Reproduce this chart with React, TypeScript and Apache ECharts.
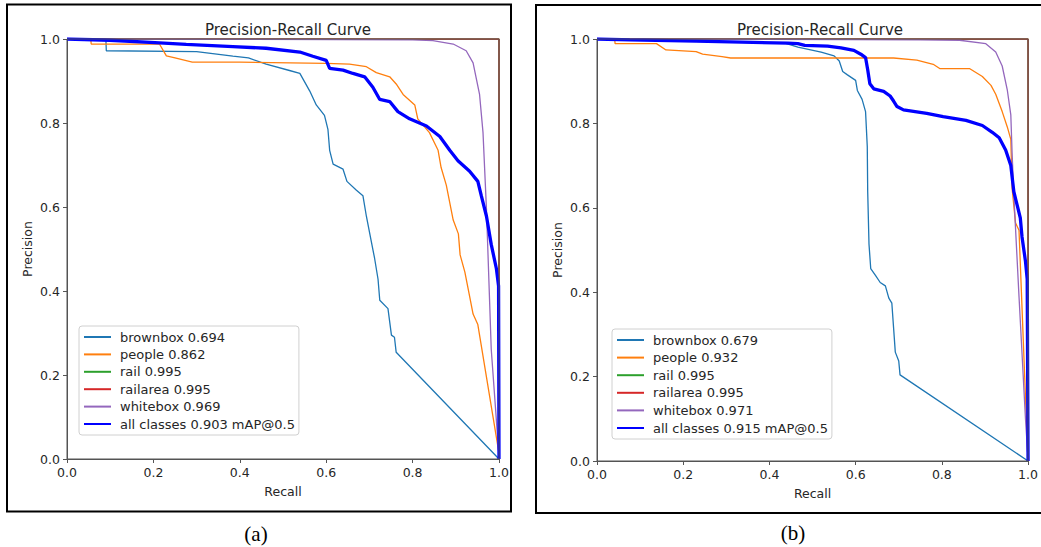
import React, { useEffect, useRef } from "react";
import * as echarts from "echarts";

const COLORS = ["#1f77b4", "#ff7f0e", "#2ca02c", "#d62728", "#9467bd", "#0000ff"];
const WIDTHS = [1.3, 1.3, 1.3, 1.3, 1.3, 3.3];

const namesA = ["brownbox 0.694", "people 0.862", "rail 0.995", "railarea 0.995", "whitebox 0.969", "all classes 0.903 mAP@0.5"];
const namesB = ["brownbox 0.679", "people 0.932", "rail 0.995", "railarea 0.995", "whitebox 0.971", "all classes 0.915 mAP@0.5"];

const brownboxA = [[0,1],[0.09,1],[0.091,0.972],[0.3,0.97],[0.384,0.959],[0.42,0.955],[0.461,0.94],[0.515,0.925],[0.539,0.918],[0.562,0.876],[0.577,0.843],[0.596,0.818],[0.604,0.785],[0.608,0.735],[0.616,0.702],[0.639,0.69],[0.648,0.661],[0.67,0.64],[0.685,0.627],[0.693,0.578],[0.704,0.52],[0.712,0.478],[0.72,0.428],[0.724,0.378],[0.743,0.358],[0.751,0.295],[0.758,0.29],[0.762,0.254],[1,0]];
const peopleA = [[0,1],[0.055,1],[0.056,0.988],[0.214,0.988],[0.23,0.96],[0.25,0.955],[0.29,0.945],[0.4,0.945],[0.6,0.942],[0.654,0.94],[0.693,0.934],[0.716,0.92],[0.747,0.91],[0.762,0.893],[0.778,0.868],[0.805,0.843],[0.812,0.81],[0.839,0.777],[0.859,0.735],[0.866,0.694],[0.878,0.652],[0.894,0.569],[0.906,0.536],[0.91,0.486],[0.921,0.445],[0.932,0.387],[0.94,0.345],[0.951,0.32],[0.999,0.02]];
const railA = [[0,1],[1,1],[1,0]];
const railareaA = [[0,1],[1,1],[1,0]];
const whiteboxA = [[0,1],[0.8,0.998],[0.847,0.996],[0.894,0.988],[0.924,0.972],[0.94,0.943],[0.955,0.868],[0.963,0.777],[0.971,0.594],[0.982,0.262],[0.999,0.02]];
const allA = [[0,1],[0.099,0.997],[0.214,0.991],[0.276,0.987],[0.384,0.982],[0.461,0.978],[0.539,0.969],[0.569,0.959],[0.6,0.949],[0.608,0.93],[0.639,0.926],[0.662,0.918],[0.689,0.91],[0.708,0.885],[0.724,0.856],[0.747,0.851],[0.766,0.827],[0.793,0.81],[0.832,0.793],[0.863,0.768],[0.886,0.735],[0.905,0.71],[0.932,0.685],[0.951,0.661],[0.959,0.627],[0.971,0.578],[0.982,0.511],[0.994,0.453],[0.999,0.412],[1,0]];

const brownboxB = [[0,1],[0.214,0.995],[0.436,0.99],[0.466,0.981],[0.52,0.969],[0.55,0.96],[0.562,0.948],[0.57,0.923],[0.581,0.915],[0.6,0.902],[0.604,0.878],[0.615,0.857],[0.623,0.828],[0.627,0.745],[0.628,0.638],[0.631,0.514],[0.635,0.456],[0.646,0.44],[0.657,0.423],[0.669,0.415],[0.677,0.386],[0.684,0.374],[0.688,0.316],[0.692,0.258],[0.7,0.237],[0.703,0.204],[1,0]];
const peopleB = [[0,1],[0.041,1],[0.042,0.989],[0.138,0.989],[0.16,0.974],[0.23,0.97],[0.245,0.964],[0.29,0.958],[0.31,0.955],[0.688,0.955],[0.742,0.95],[0.78,0.94],[0.795,0.93],[0.864,0.93],[0.894,0.911],[0.914,0.89],[0.925,0.869],[0.94,0.828],[0.952,0.791],[0.96,0.762],[0.963,0.646],[0.971,0.564],[0.979,0.547],[0.999,0.02]];
const railB = [[0,1],[1,1],[1,0]];
const railareaB = [[0,1],[1,1],[1,0]];
const whiteboxB = [[0,1],[0.75,0.998],[0.841,0.997],[0.902,0.989],[0.925,0.969],[0.94,0.936],[0.952,0.878],[0.96,0.82],[0.963,0.729],[0.967,0.63],[0.979,0.39],[0.994,0.1],[0.999,0.02]];
const allB = [[0,1],[0.076,0.998],[0.23,0.995],[0.443,0.99],[0.466,0.989],[0.482,0.985],[0.535,0.983],[0.566,0.979],[0.596,0.973],[0.612,0.964],[0.623,0.956],[0.628,0.927],[0.633,0.894],[0.642,0.882],[0.665,0.876],[0.68,0.865],[0.688,0.853],[0.696,0.84],[0.711,0.832],[0.765,0.824],[0.803,0.816],[0.856,0.807],[0.894,0.795],[0.917,0.779],[0.933,0.766],[0.948,0.737],[0.96,0.7],[0.967,0.638],[0.975,0.605],[0.982,0.576],[0.986,0.531],[0.994,0.473],[0.998,0.431],[1,0]];

const dataA = [brownboxA, peopleA, railA, railareaA, whiteboxA, allA];
const dataB = [brownboxB, peopleB, railB, railareaB, whiteboxB, allB];

const FONT = "DejaVu Sans";
const AXC = "#555";
const TXT = "#262626";

function axisX(gridIndex: number) {
  return {
    type: "value", gridIndex, min: 0, max: 1, interval: 0.2,
    name: "Recall", nameLocation: "middle", nameGap: 26,
    nameTextStyle: { fontFamily: FONT, fontSize: 12.5, color: TXT },
    axisLine: { show: true, lineStyle: { color: AXC, width: 1 } },
    axisTick: { show: true, length: 4, lineStyle: { color: AXC } },
    axisLabel: { fontFamily: FONT, fontSize: 12.5, color: TXT, margin: 7, formatter: (v: number) => v.toFixed(1) },
    splitLine: { show: false },
  };
}
function axisY(gridIndex: number) {
  return {
    type: "value", gridIndex, min: 0, max: 1, interval: 0.2,
    name: "Precision", nameLocation: "middle", nameGap: 33, nameRotate: 90,
    nameTextStyle: { fontFamily: FONT, fontSize: 12.5, color: TXT },
    axisLine: { show: true, lineStyle: { color: AXC, width: 1 } },
    axisTick: { show: true, length: 4, lineStyle: { color: AXC } },
    axisLabel: { fontFamily: FONT, fontSize: 12.5, color: TXT, margin: 7, formatter: (v: number) => v.toFixed(1) },
    splitLine: { show: false },
  };
}

function legend(names: string[], left: number, top: number, gap: number) {
  return {
    orient: "vertical", left, top, selectedMode: false,
    data: names,
    itemWidth: 27, itemHeight: 14, itemGap: gap,
    padding: [4.5, 4, 4.5, 4],
    backgroundColor: "#fff", borderColor: "#d0d0d0", borderWidth: 1, borderRadius: 3,
    itemStyle: { opacity: 0 },
    textStyle: { fontFamily: FONT, fontSize: 13, color: TXT, padding: [0, 0, 0, 4] },
  };
}

export default function App() {
  const ref = useRef<HTMLDivElement>(null);
  useEffect(() => {
    if (!ref.current) return;
    const chart = echarts.init(ref.current, null, { renderer: "svg" });
    const series: any[] = [];
    [dataA, dataB].forEach((set, gi) => {
      const names = gi === 0 ? namesA : namesB;
      set.forEach((d, i) => {
        series.push({
          type: "line", name: names[i], data: d, xAxisIndex: gi, yAxisIndex: gi,
          symbol: "none", showSymbol: false, silent: true, clip: true,
          lineStyle: { color: COLORS[i], width: WIDTHS[i] },
          itemStyle: { color: COLORS[i] },
          z: 2 + i,
        });
      });
    });
    chart.setOption({
      animation: false,
      backgroundColor: "#fff",
      title: [
        { text: "Precision-Recall Curve", left: 283, top: 17, textAlign: "center", textStyle: { fontFamily: FONT, fontSize: 15, fontWeight: "normal", color: TXT } },
        { text: "Precision-Recall Curve", left: 815, top: 17, textAlign: "center", textStyle: { fontFamily: FONT, fontSize: 15, fontWeight: "normal", color: TXT } },
      ],
      grid: [
        { left: 67, top: 39, width: 432, height: 420, show: true, borderColor: AXC, borderWidth: 1, backgroundColor: "transparent", z: 20 },
        { left: 597, top: 39, width: 436, height: 422, show: true, borderColor: AXC, borderWidth: 1, backgroundColor: "transparent", z: 20 },
      ],
      xAxis: [axisX(0), axisX(1)],
      yAxis: [axisY(0), axisY(1)],
      legend: [legend(namesA, 79, 326, 4.4), legend(namesB, 612, 329, 4.6)],
      series,
      graphic: [
        { type: "rect", shape: { x: 7, y: 4.5, width: 504, height: 507 }, style: { fill: "none", stroke: "#000", lineWidth: 2 }, silent: true },
        { type: "rect", shape: { x: 536, y: 5, width: 510, height: 508 }, style: { fill: "none", stroke: "#000", lineWidth: 2 }, silent: true },
        { type: "text", x: 256, y: 534, style: { text: "(a)", font: '21px "Liberation Serif"', fill: "#000", textAlign: "center", textVerticalAlign: "middle" } },
        { type: "text", x: 793, y: 533, style: { text: "(b)", font: '21px "Liberation Serif"', fill: "#000", textAlign: "center", textVerticalAlign: "middle" } },
      ],
    });
    return () => chart.dispose();
  }, []);
  return <div ref={ref} style={{ position: "absolute", left: 0, top: 0, width: 1041, height: 547 }} />;
}
